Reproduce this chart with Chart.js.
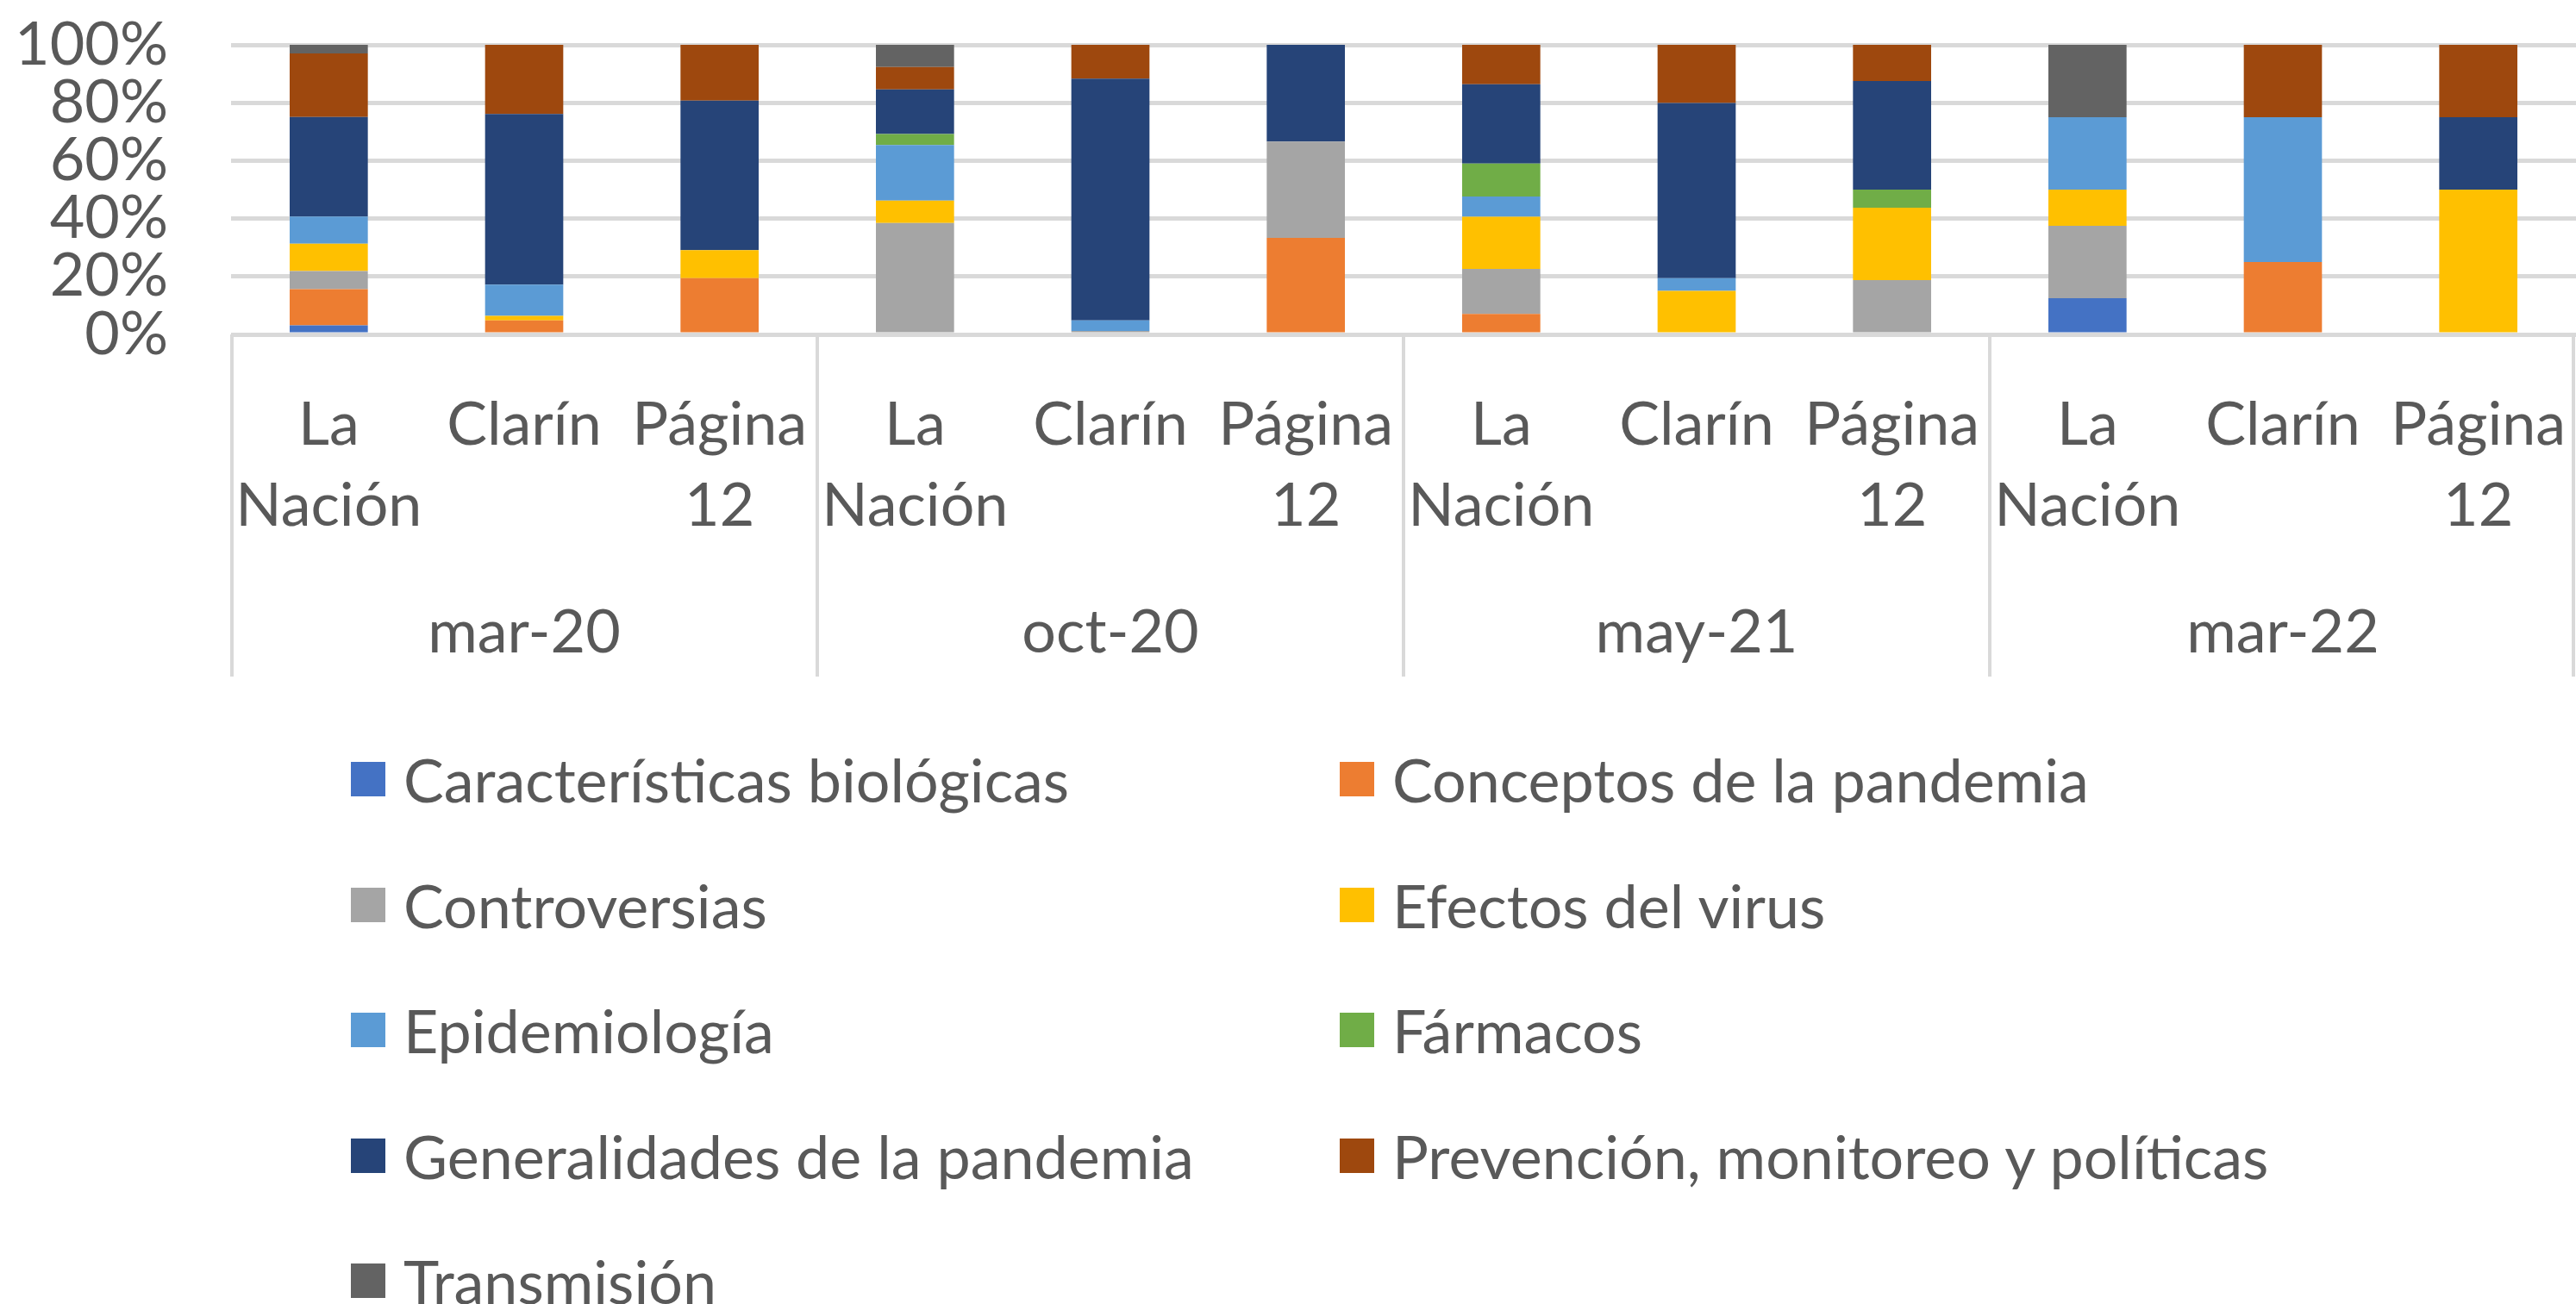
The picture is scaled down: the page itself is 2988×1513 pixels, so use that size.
<!DOCTYPE html>
<html lang="es">
<head>
<meta charset="UTF-8">
<title>Temas por diario y período</title>
<script src="https://cdn.jsdelivr.net/npm/chart.js"></script>
<style>
  body { margin: 0; background: #fff; font-family: Lato, sans-serif; }
  #wrap { position: relative; width: 2988px; height: 1513px; overflow: hidden; }
  #chartBox { position: absolute; left: 0; top: 0; width: 2988px; height: 800px; }
  .item { position: absolute; height: 100px; display: flex; align-items: center;
          font-size: 70px; color: #595959; white-space: nowrap; }
  .item .box { width: 40px; height: 40px; margin-right: 21px; flex: none; }
</style>
</head>
<body>
<div id="wrap">
  <div id="chartBox"><canvas id="temas"></canvas></div>
  <div id="legend"></div>
</div>
<script>
// categorias
const diarios = [['La', 'Nación'], 'Clarín', ['Página', '12']];
const periodos = ['mar-20', 'oct-20', 'may-21', 'mar-22'];
const categorias = periodos.flatMap(() => diarios);

// % por tema (orden: mar-20 LN, Cl, P12 | oct-20 | may-21 | mar-22)
const caracteristicas = [3.1, 0, 0, 0, 0, 0, 0, 0, 0, 12.5, 0, 0];
const conceptos       = [12.5, 4.8, 19.4, 0, 0, 33.3, 7.1, 0, 0, 0, 25, 0];
const controversias   = [6.3, 0, 0, 38.5, 1.2, 33.3, 15.5, 0, 18.75, 25, 0, 0];
const efectos         = [9.4, 1.6, 9.7, 7.7, 0, 0, 18, 15, 25, 12.5, 0, 50];
const epidemiologia   = [9.4, 10.8, 0, 19.2, 3.6, 0, 7, 4.4, 0, 25, 50, 0];
const farmacos        = [0, 0, 0, 3.8, 0, 0, 11.4, 0, 6.25, 0, 0, 0];
const generalidades   = [34.4, 58.9, 51.6, 15.4, 83.5, 33.4, 27.4, 60.5, 37.5, 0, 0, 25];
const prevencion      = [21.9, 23.9, 19.3, 7.7, 11.7, 0, 13.6, 20.1, 12.5, 0, 25, 25];
const transmision     = [3.1, 0, 0, 7.7, 0, 0, 0, 0, 0, 25, 0, 0];

const temas = ['Características biológicas', 'Conceptos de la pandemia', 'Controversias',
  'Efectos del virus', 'Epidemiología', 'Fármacos', 'Generalidades de la pandemia',
  'Prevención, monitoreo y políticas', 'Transmisión'];
const valores = [caracteristicas, conceptos, controversias, efectos, epidemiologia,
  farmacos, generalidades, prevencion, transmision];
const colores = ['#4472C4', '#ED7D31', '#A5A5A5', '#FFC000', '#5B9BD5',
  '#70AD47', '#264478', '#9E480E', '#636363'];

const yTicks = [0, 20, 40, 60, 80, 100];

Chart.defaults.font.family = 'Lato, sans-serif';
Chart.defaults.font.size = 70;
Chart.defaults.color = '#595959';

// lineas verticales que separan los periodos
const separadores = {
  id: 'separadores',
  afterDraw(chart) {
    const x = chart.scales.x, x2 = chart.scales.x2;
    const ctx = chart.ctx;
    const n = diarios.length;
    ctx.save();
    ctx.strokeStyle = '#d9d9d9';
    ctx.lineWidth = 4;
    for (let i = 0; i <= categorias.length; i += n) {
      let px;
      if (i === 0) px = x.left + 1;
      else if (i === categorias.length) px = x.right - 3;
      else px = (x.getPixelForTick(i - 1) + x.getPixelForTick(i)) / 2;
      ctx.beginPath();
      ctx.moveTo(px, chart.chartArea.bottom);
      ctx.lineTo(px, x2.bottom + 4);
      ctx.stroke();
    }
    ctx.restore();
  }
};

const chart = new Chart(document.getElementById('temas'), {
  type: 'bar',
  data: {
    labels: categorias,
    datasets: temas.map((t, i) => ({
      label: t,
      data: valores[i],
      backgroundColor: colores[i],
      borderWidth: 0,
      barPercentage: 0.4,
      categoryPercentage: 1
    }))
  },
  options: {
    responsive: true,
    maintainAspectRatio: false,
    animation: false,
    layout: { padding: { top: 52, bottom: 19, left: 0, right: 0 } },
    plugins: { legend: { display: false }, tooltip: { enabled: false } },
    scales: {
      x: {
        stacked: true,
        grid: { display: false, drawTicks: true, tickLength: 59 },
        border: { display: false },
        ticks: { autoSkip: false, maxRotation: 0, minRotation: 0, padding: 0,
                 font: { size: 70, lineHeight: 1.34 } },
        afterFit: s => { s.height = 262; }
      },
      x2: {
        type: 'category',
        position: 'bottom',
        labels: periodos,
        grid: { display: false, drawTicks: true, tickLength: 38 },
        border: { display: false },
        ticks: { autoSkip: false, maxRotation: 0, minRotation: 0, padding: 0,
                 font: { size: 70, lineHeight: 1.34 } },
        afterFit: s => { s.height = 131; }
      },
      y: {
        stacked: true,
        min: 0,
        max: 100,
        afterBuildTicks: s => { s.ticks = yTicks.map(v => ({ value: v })); },
        grid: { color: '#d9d9d9', lineWidth: 5, drawTicks: true, tickLength: 73,
                tickColor: 'rgba(0,0,0,0)' },
        border: { display: false },
        ticks: { autoSkip: false, padding: 0, callback: v => v + '%' },
        afterFit: s => { s.width = 268; }
      }
    }
  },
  plugins: [separadores]
});

// leyenda en dos columnas
const legend = document.getElementById('legend');
chart.data.datasets.forEach((ds, i) => {
  const col = i % 2, row = Math.floor(i / 2);
  const item = document.createElement('div');
  item.className = 'item';
  item.style.left = (col ? 1554 : 407) + 'px';
  item.style.top = (904 + row * 145.5 - 50) + 'px';
  const box = document.createElement('span');
  box.className = 'box';
  box.style.background = ds.backgroundColor;
  const txt = document.createElement('span');
  txt.textContent = ds.label;
  item.appendChild(box);
  item.appendChild(txt);
  legend.appendChild(item);
});
</script>
</body>
</html>
